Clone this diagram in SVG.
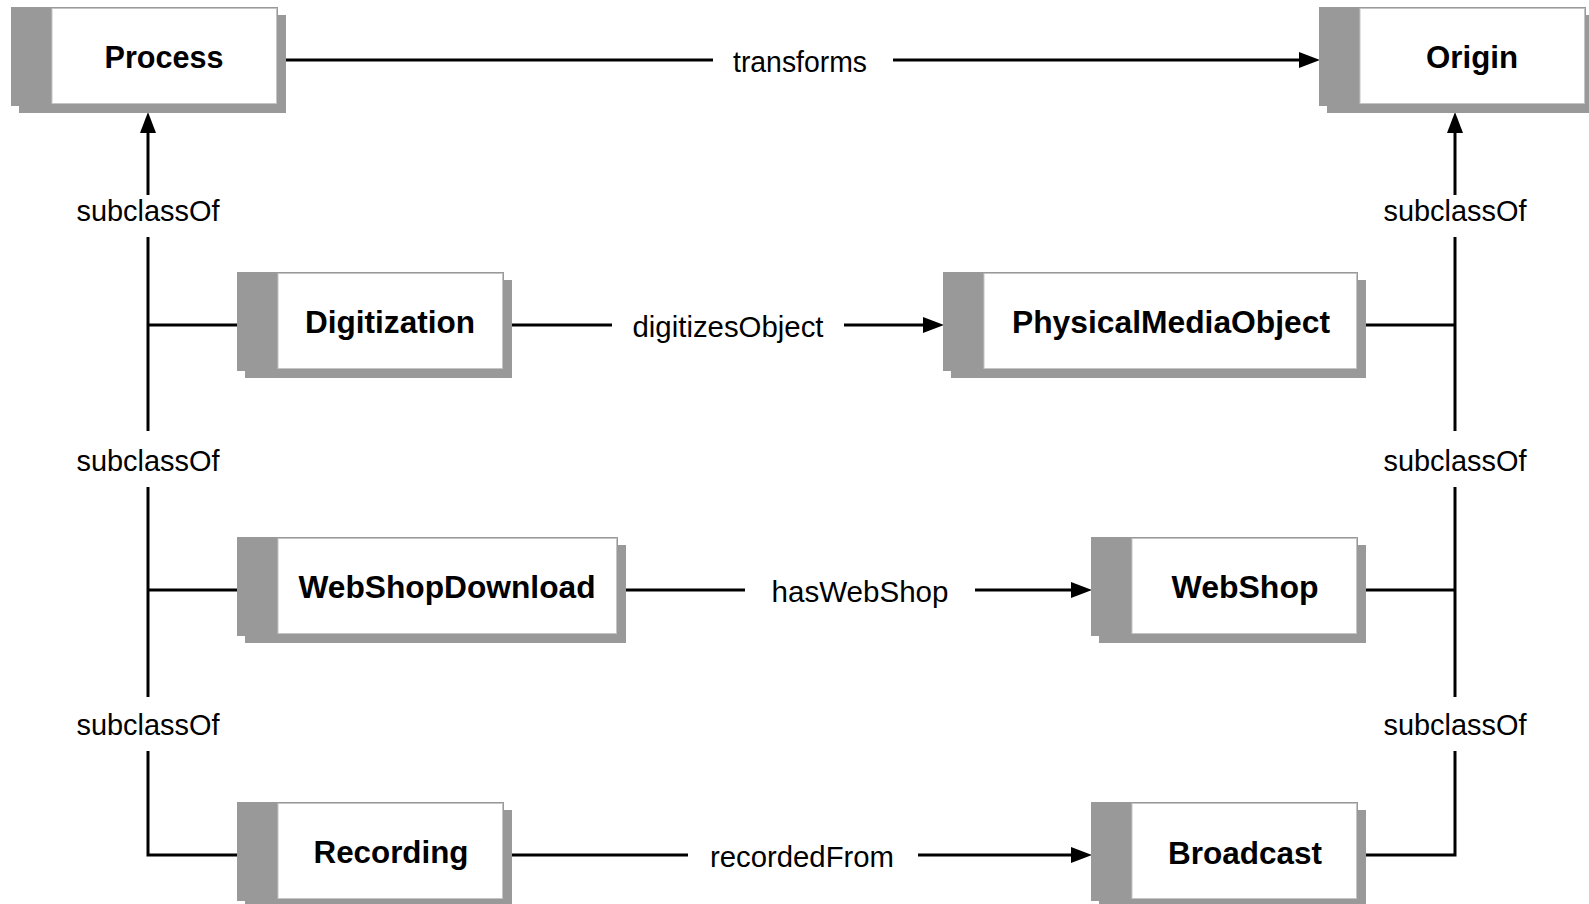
<svg xmlns="http://www.w3.org/2000/svg" width="1589" height="904" viewBox="0 0 1589 904">
<style>
.sh{fill:#999999}
.bd{fill:#999999}
.wh{fill:#ffffff;stroke:#c4c4c4;stroke-width:1}
.t{font-family:"Liberation Sans",Arial,sans-serif;font-weight:bold;font-size:31px;fill:#000;text-anchor:middle}
.l{font-family:"Liberation Sans",Arial,sans-serif;font-size:29px;fill:#000;text-anchor:middle}
.c{fill:none;stroke:#000;stroke-width:3;stroke-linejoin:miter}
</style>
<defs>
<marker id="ah" markerUnits="userSpaceOnUse" markerWidth="22" markerHeight="18" refX="10" refY="8" orient="auto" viewBox="0 0 22 16">
<path d="M0,0 L21,8 L0,16 z" fill="#000"/>
</marker>
</defs>
<rect width="1589" height="904" fill="#ffffff"/>
<g id="connectors">
<path class="c" d="M286,60 H713"/>
<path class="c" d="M893,60 H1309" marker-end="url(#ah)"/>
<path class="c" d="M512,325 H612"/>
<path class="c" d="M844,325 H933" marker-end="url(#ah)"/>
<path class="c" d="M626,590 H745"/>
<path class="c" d="M975,590 H1081" marker-end="url(#ah)"/>
<path class="c" d="M512,855 H688"/>
<path class="c" d="M918,855 H1081" marker-end="url(#ah)"/>
<path class="c" d="M237,855 H148 V751"/>
<path class="c" d="M148,697 V487"/>
<path class="c" d="M148,431 V237"/>
<path class="c" d="M148,195 V123" marker-end="url(#ah)"/>
<path class="c" d="M148,325 H237"/>
<path class="c" d="M148,590 H237"/>
<path class="c" d="M1366,855 H1455 V751"/>
<path class="c" d="M1455,697 V487"/>
<path class="c" d="M1455,431 V237"/>
<path class="c" d="M1455,195 V123" marker-end="url(#ah)"/>
<path class="c" d="M1366,325 H1455"/>
<path class="c" d="M1366,590 H1455"/>
<text class="l" x="800" y="72" textLength="134" lengthAdjust="spacingAndGlyphs">transforms</text>
<text class="l" x="728" y="337" textLength="191" lengthAdjust="spacingAndGlyphs">digitizesObject</text>
<text class="l" x="860" y="602" textLength="177" lengthAdjust="spacingAndGlyphs">hasWebShop</text>
<text class="l" x="802" y="867" textLength="184" lengthAdjust="spacingAndGlyphs">recordedFrom</text>
<text class="l" x="148" y="221" textLength="143" lengthAdjust="spacingAndGlyphs">subclassOf</text>
<text class="l" x="148" y="471" textLength="143" lengthAdjust="spacingAndGlyphs">subclassOf</text>
<text class="l" x="148" y="735" textLength="143" lengthAdjust="spacingAndGlyphs">subclassOf</text>
<text class="l" x="1455" y="221" textLength="143" lengthAdjust="spacingAndGlyphs">subclassOf</text>
<text class="l" x="1455" y="471" textLength="143" lengthAdjust="spacingAndGlyphs">subclassOf</text>
<text class="l" x="1455" y="735" textLength="143" lengthAdjust="spacingAndGlyphs">subclassOf</text>
</g>
<g id="Process">
<rect class="sh" x="19" y="15" width="267" height="98"/>
<rect class="bd" x="11" y="7" width="267" height="99"/>
<rect class="wh" x="52" y="8.5" width="224.5" height="95"/>
<text class="t" x="164" y="68" textLength="119" lengthAdjust="spacingAndGlyphs">Process</text>
</g>
<g id="Origin">
<rect class="sh" x="1327" y="15" width="267" height="98"/>
<rect class="bd" x="1319" y="7" width="267" height="99"/>
<rect class="wh" x="1360" y="8.5" width="224.5" height="95"/>
<text class="t" x="1472" y="68" textLength="92" lengthAdjust="spacingAndGlyphs">Origin</text>
</g>
<g id="Digitization">
<rect class="sh" x="245" y="280" width="267" height="98"/>
<rect class="bd" x="237" y="272" width="267" height="99"/>
<rect class="wh" x="278" y="273.5" width="224.5" height="95"/>
<text class="t" x="390" y="333" textLength="170" lengthAdjust="spacingAndGlyphs">Digitization</text>
</g>
<g id="PhysicalMediaObject">
<rect class="sh" x="951" y="280" width="415" height="98"/>
<rect class="bd" x="943" y="272" width="415" height="99"/>
<rect class="wh" x="984" y="273.5" width="372.5" height="95"/>
<text class="t" x="1171" y="333" textLength="318" lengthAdjust="spacingAndGlyphs">PhysicalMediaObject</text>
</g>
<g id="WebShopDownload">
<rect class="sh" x="245" y="545" width="381" height="98"/>
<rect class="bd" x="237" y="537" width="381" height="99"/>
<rect class="wh" x="278" y="538.5" width="338.5" height="95"/>
<text class="t" x="447" y="598" textLength="297" lengthAdjust="spacingAndGlyphs">WebShopDownload</text>
</g>
<g id="WebShop">
<rect class="sh" x="1099" y="545" width="267" height="98"/>
<rect class="bd" x="1091" y="537" width="267" height="99"/>
<rect class="wh" x="1132" y="538.5" width="224.5" height="95"/>
<text class="t" x="1245" y="598" textLength="147" lengthAdjust="spacingAndGlyphs">WebShop</text>
</g>
<g id="Recording">
<rect class="sh" x="245" y="810" width="267" height="98"/>
<rect class="bd" x="237" y="802" width="267" height="99"/>
<rect class="wh" x="278" y="803.5" width="224.5" height="95"/>
<text class="t" x="391" y="863" textLength="155" lengthAdjust="spacingAndGlyphs">Recording</text>
</g>
<g id="Broadcast">
<rect class="sh" x="1099" y="810" width="267" height="98"/>
<rect class="bd" x="1091" y="802" width="267" height="99"/>
<rect class="wh" x="1132" y="803.5" width="224.5" height="95"/>
<text class="t" x="1245" y="864" textLength="154" lengthAdjust="spacingAndGlyphs">Broadcast</text>
</g>
</svg>
